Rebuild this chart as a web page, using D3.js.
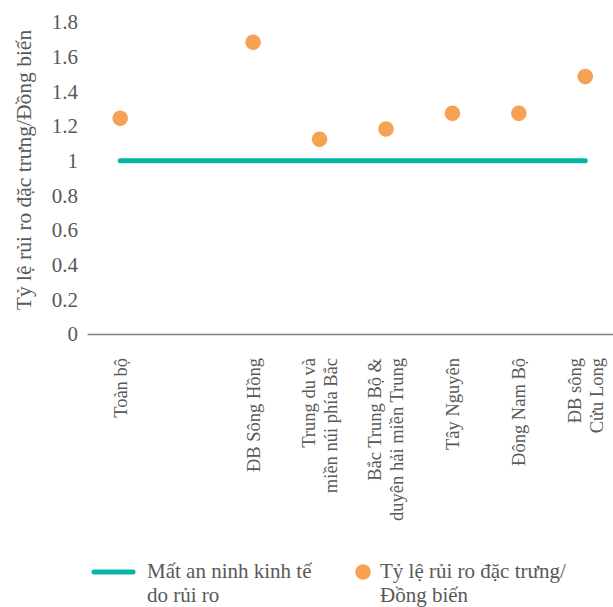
<!DOCTYPE html>
<html>
<head>
<meta charset="utf-8">
<script src="https://cdn.jsdelivr.net/npm/d3@7"></script>
<style>
  html, body { margin: 0; padding: 0; background: #ffffff; }
</style>
</head>
<body>
<svg id="chart" width="613" height="607"></svg>
<script>
// Regions (one empty slot after the national total), each label split into lines
const categories = [
  ["Toàn bộ"],
  [""],
  ["ĐB Sông Hồng"],
  ["Trung du và", "miền núi phía Bắc"],
  ["Bắc Trung Bộ &", "duyên hải miền Trung"],
  ["Tây Nguyên"],
  ["Đông Nam Bộ"],
  ["ĐB sông", "Cửu Long"]
];
// Baseline: economic insecurity due to risk (reference level = 1)
const baselineValues = [1, 1, 1, 1, 1, 1, 1, 1];
// Specific risk ratio / co-movement
const ratioValues = [1.245, null, 1.683, 1.123, 1.183, 1.273, 1.273, 1.485];
const yTicks = [0, 0.2, 0.4, 0.6, 0.8, 1, 1.2, 1.4, 1.6, 1.8];
const yTitle = "Tỷ lệ rủi ro đặc trưng/Đồng biến";
const legendLabels = [
  ["Mất an ninh kinh tế", "do rủi ro"],
  ["Tỷ lệ rủi ro đặc trưng/", "Đồng biến"]
];

const teal = "#06b5a6", orange = "#f7a154", textColor = "#595959";
const serif = "'Liberation Serif', 'Times New Roman', serif";
const svg = d3.select("#chart");

const keys = categories.map((c, i) => i);
const x = d3.scaleBand().domain(keys).range([87, 618.5]).padding(0);
const cx = i => x(i) + x.bandwidth() / 2;
const y = d3.scaleLinear().domain([0, 1.8]).range([334, 22]);

// Y axis tick labels
const yAxis = svg.append("g")
  .attr("transform", "translate(87,0)")
  .call(d3.axisLeft(y).tickValues(yTicks).tickSize(0).tickPadding(9)
    .tickFormat(d => String(d)));
yAxis.attr("font-family", null);
yAxis.select(".domain").remove();
yAxis.selectAll("text")
  .attr("fill", textColor)
  .style("font-family", serif)
  .style("font-size", "21px");

// Category axis line
const xAxis = svg.append("g")
  .attr("transform", "translate(0,334)")
  .call(d3.axisBottom(x).tickSize(0).tickSizeOuter(0).tickFormat(""));
xAxis.select(".domain").attr("stroke", "#808080").attr("stroke-width", 1.5);

// Rotated category labels, end-aligned just below the axis
const labelG = svg.append("g");
categories.forEach((lines, i) => {
  const n = lines.length;
  lines.forEach((t, k) => {
    const off = (k - (n - 1) / 2) * 22;
    const px = cx(i) + off;
    labelG.append("text")
      .attr("transform", `translate(${px},358) rotate(-90)`)
      .attr("text-anchor", "end")
      .attr("dy", "0.35em")
      .attr("fill", textColor)
      .style("font-family", serif)
      .style("font-size", "18.5px")
      .text(t);
  });
});

// Y axis title
svg.append("text")
  .attr("transform", `translate(23,${(25 + 315) / 2}) rotate(-90)`)
  .attr("text-anchor", "middle")
  .attr("dy", "0.35em")
  .attr("fill", textColor)
  .style("font-family", serif)
  .style("font-size", "21.5px")
  .text(yTitle);

// Baseline series
const line = d3.line().x((d, i) => cx(i)).y(d => y(d));
svg.append("path")
  .datum(baselineValues)
  .attr("d", line)
  .attr("fill", "none")
  .attr("stroke", teal)
  .attr("stroke-width", 5)
  .attr("stroke-linecap", "round");

// Ratio markers
svg.append("g").selectAll("circle")
  .data(ratioValues.map((v, i) => ({ v, i })).filter(d => d.v != null))
  .join("circle")
  .attr("cx", d => cx(d.i))
  .attr("cy", d => y(d.v))
  .attr("r", 7.8)
  .attr("fill", orange);

// Legend
const lg = svg.append("g");
lg.append("line")
  .attr("x1", 94).attr("x2", 133).attr("y1", 572).attr("y2", 572)
  .attr("stroke", teal).attr("stroke-width", 5).attr("stroke-linecap", "round");
lg.append("circle").attr("cx", 363).attr("cy", 572).attr("r", 7.8).attr("fill", orange);
[[147, legendLabels[0]], [380, legendLabels[1]]].forEach(([lx, lines]) => {
  lines.forEach((t, k) => {
    lg.append("text")
      .attr("x", lx).attr("y", 578 + k * 24)
      .attr("fill", textColor)
      .style("font-family", serif)
      .style("font-size", "21px")
      .text(t);
  });
});
</script>
</body>
</html>
